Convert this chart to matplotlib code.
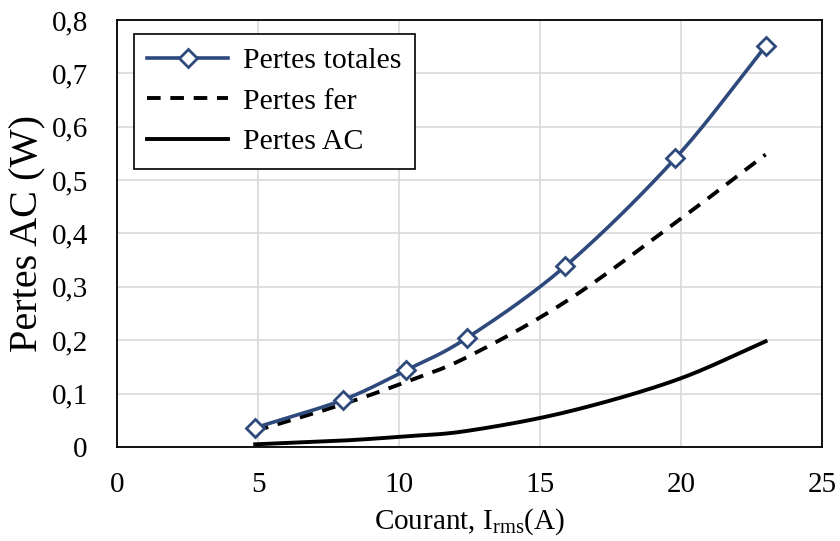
import numpy as np
import matplotlib
matplotlib.use("Agg")
import matplotlib.pyplot as plt
from matplotlib.ticker import FuncFormatter, MultipleLocator

plt.rcParams['font.family'] = ['Liberation Serif', 'DejaVu Serif']
plt.rcParams['mathtext.fontset'] = 'custom'
plt.rcParams['mathtext.rm'] = 'Liberation Serif'

# Data
courant = [4.9, 8.0, 10.25, 12.4, 15.9, 19.8, 23.0]
pertes_totales = [0.036, 0.088, 0.144, 0.204, 0.339, 0.541, 0.751]
pertes_fer = [0.030, 0.080, 0.122, 0.168, 0.272, 0.420, 0.548]
pertes_ac = [0.005, 0.012, 0.020, 0.030, 0.065, 0.125, 0.198]


def smooth(x, y, n=30):
    # Catmull-Rom spline through the points (Excel-like smoothing)
    x = np.asarray(x, float); y = np.asarray(y, float)
    px = np.concatenate([[2 * x[0] - x[1]], x, [2 * x[-1] - x[-2]]])
    py = np.concatenate([[2 * y[0] - y[1]], y, [2 * y[-1] - y[-2]]])
    xs, ys = [], []
    t = np.linspace(0, 1, n)
    for i in range(1, len(px) - 2):
        p0, p1, p2, p3 = [np.array([px[j], py[j]]) for j in (i - 1, i, i + 1, i + 2)]
        tt = t[:, None]
        pts = 0.5 * ((2 * p1) + (-p0 + p2) * tt + (2 * p0 - 5 * p1 + 4 * p2 - p3) * tt ** 2
                     + (-p0 + 3 * p1 - 3 * p2 + p3) * tt ** 3)
        xs.extend(pts[:, 0]); ys.extend(pts[:, 1])
    return np.array(xs), np.array(ys)


fig = plt.figure(figsize=(8.4, 5.41), dpi=100)
ax = fig.add_axes([0.1393, 0.1738, 0.8393, 0.7892])

blue = '#2E4A7D'
sx, sy = smooth(courant, pertes_totales)
ax.plot(sx, sy, color=blue, lw=2.6, zorder=4)
ax.plot(courant, pertes_totales, ls='none', marker='D', ms=9, mfc='white',
        mec=blue, mew=2, zorder=5)
h1 = plt.Line2D([], [], color=blue, lw=2.6, marker='D', ms=9, mfc='white', mec=blue, mew=2)

sx, sy = smooth(courant, pertes_fer)
ax.plot(sx, sy, color='black', lw=2.8, ls=(0, (3.5, 2.5)), zorder=3)
h2 = plt.Line2D([], [], color='black', lw=2.8, ls=(0, (3.5, 2.5)))

sx, sy = smooth(courant, pertes_ac)
ax.plot(sx, sy, color='black', lw=2.8, zorder=3)
h3 = plt.Line2D([], [], color='black', lw=2.8)

ax.set_xlim(0, 25)
ax.set_ylim(0, 0.8)
ax.xaxis.set_major_locator(MultipleLocator(5))
ax.yaxis.set_major_locator(MultipleLocator(0.1))
ax.yaxis.set_major_formatter(FuncFormatter(lambda v, p: '0' if abs(v) < 1e-9 else f'{v:.1f}'.replace('.', ',')))
ax.grid(True, color='#D9D9D9', lw=1.2)
ax.set_axisbelow(True)
ax.tick_params(length=0, labelsize=21)
ax.tick_params(axis='x', pad=18)
ax.tick_params(axis='y', pad=21)
for s in ax.spines.values():
    s.set_color('black'); s.set_linewidth(1.3)

ax.set_ylabel('Pertes AC (W)', fontsize=29, labelpad=4)
ax.set_xlabel(r'Courant, I$_{\mathregular{rms}}$(A)', fontsize=21, labelpad=6)

leg = ax.legend([h1, h2, h3], ['Pertes totales', 'Pertes fer', 'Pertes AC'],
                loc='upper left', bbox_to_anchor=(0.024, 0.967), borderaxespad=0,
                fontsize=21.5, frameon=True, fancybox=False, edgecolor='black',
                framealpha=1, handlelength=2.7, handletextpad=0.5,
                borderpad=0.45, labelspacing=0.45)
leg.get_frame().set_linewidth(1.2)

fig.savefig('out.png', dpi=100)
